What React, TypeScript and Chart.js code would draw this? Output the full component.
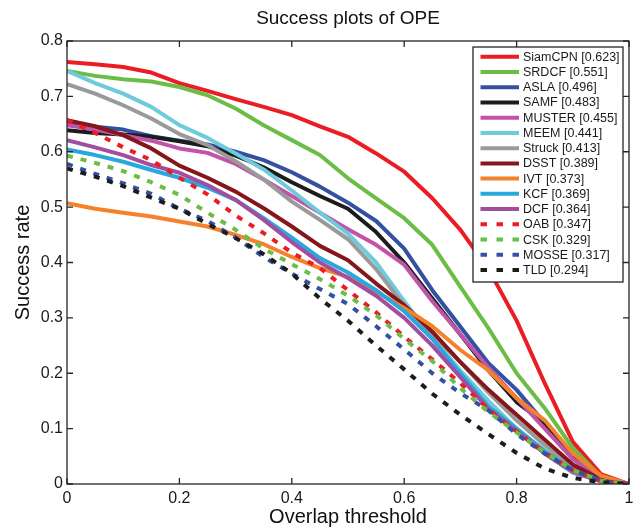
import React, { useEffect, useRef } from "react";
import { Chart, registerables } from "chart.js";

Chart.register(...registerables);

const thresholds = [0, 0.05, 0.1, 0.15, 0.2, 0.25, 0.3, 0.35, 0.4, 0.45, 0.5, 0.55, 0.6, 0.65, 0.7, 0.75, 0.8, 0.85, 0.9, 0.95, 1];

const siamCPN = [0.762, 0.758, 0.753, 0.743, 0.724, 0.71, 0.695, 0.681, 0.666, 0.646, 0.627, 0.597, 0.564, 0.516, 0.459, 0.388, 0.295, 0.182, 0.076, 0.018, 0];
const srdcf = [0.746, 0.737, 0.731, 0.727, 0.717, 0.702, 0.678, 0.648, 0.621, 0.594, 0.552, 0.516, 0.48, 0.432, 0.356, 0.281, 0.2, 0.137, 0.065, 0.013, 0];
const asla = [0.65, 0.645, 0.64, 0.628, 0.62, 0.613, 0.6, 0.585, 0.563, 0.537, 0.508, 0.475, 0.425, 0.35, 0.284, 0.218, 0.17, 0.11, 0.049, 0.012, 0];
const samf = [0.639, 0.634, 0.631, 0.627, 0.619, 0.61, 0.593, 0.572, 0.545, 0.52, 0.497, 0.455, 0.4, 0.335, 0.27, 0.205, 0.148, 0.11, 0.05, 0.012, 0];
const muster = [0.648, 0.64, 0.63, 0.62, 0.606, 0.598, 0.578, 0.55, 0.52, 0.49, 0.46, 0.432, 0.396, 0.33, 0.27, 0.21, 0.155, 0.1, 0.045, 0.01, 0];
const meem = [0.746, 0.724, 0.705, 0.681, 0.648, 0.625, 0.597, 0.568, 0.53, 0.49, 0.452, 0.4, 0.33, 0.265, 0.205, 0.15, 0.1, 0.055, 0.02, 0.005, 0];
const struck = [0.722, 0.705, 0.684, 0.66, 0.632, 0.612, 0.583, 0.55, 0.51, 0.477, 0.442, 0.388, 0.322, 0.27, 0.22, 0.165, 0.115, 0.07, 0.03, 0.008, 0];
const dsst = [0.657, 0.646, 0.63, 0.606, 0.575, 0.553, 0.528, 0.498, 0.465, 0.43, 0.404, 0.362, 0.323, 0.275, 0.22, 0.17, 0.125, 0.08, 0.035, 0.008, 0];
const ivt = [0.507, 0.497, 0.49, 0.483, 0.474, 0.465, 0.45, 0.433, 0.41, 0.39, 0.374, 0.347, 0.318, 0.285, 0.242, 0.205, 0.155, 0.115, 0.055, 0.015, 0];
const kcf = [0.604, 0.594, 0.582, 0.567, 0.553, 0.535, 0.513, 0.48, 0.445, 0.408, 0.382, 0.35, 0.312, 0.262, 0.2, 0.14, 0.1, 0.06, 0.025, 0.006, 0];
const dcf = [0.621, 0.608, 0.594, 0.576, 0.562, 0.54, 0.513, 0.477, 0.437, 0.4, 0.372, 0.34, 0.3, 0.25, 0.193, 0.135, 0.095, 0.055, 0.022, 0.005, 0];
const oab = [0.657, 0.634, 0.608, 0.585, 0.553, 0.523, 0.485, 0.453, 0.418, 0.39, 0.35, 0.31, 0.266, 0.225, 0.182, 0.135, 0.095, 0.057, 0.025, 0.006, 0];
const csk = [0.593, 0.58, 0.565, 0.545, 0.522, 0.49, 0.459, 0.425, 0.397, 0.37, 0.34, 0.305, 0.262, 0.222, 0.173, 0.13, 0.093, 0.057, 0.025, 0.006, 0];
const mosse = [0.578, 0.56, 0.543, 0.524, 0.497, 0.475, 0.445, 0.41, 0.38, 0.352, 0.325, 0.285, 0.243, 0.2, 0.164, 0.133, 0.09, 0.055, 0.025, 0.006, 0];
const tld = [0.57, 0.555, 0.538, 0.517, 0.497, 0.47, 0.444, 0.415, 0.38, 0.335, 0.295, 0.25, 0.207, 0.163, 0.125, 0.09, 0.056, 0.028, 0.011, 0.003, 0];

const seriesLabels = [
  "SiamCPN [0.623]", "SRDCF [0.551]", "ASLA [0.496]", "SAMF [0.483]", "MUSTER [0.455]",
  "MEEM [0.441]", "Struck [0.413]", "DSST [0.389]", "IVT [0.373]", "KCF [0.369]",
  "DCF [0.364]", "OAB [0.347]", "CSK [0.329]", "MOSSE [0.317]", "TLD [0.294]",
];
const seriesValues = [siamCPN, srdcf, asla, samf, muster, meem, struck, dsst, ivt, kcf, dcf, oab, csk, mosse, tld];
const seriesColors = [
  "#ec1c24", "#6cbd45", "#3451a1", "#1c1c1c", "#c154aa",
  "#6fcbdc", "#9a9a9a", "#85161a", "#f5822b", "#29a7df",
  "#a24d9d", "#ec1c24", "#6cbd45", "#3451a1", "#1c1c1c",
];
const seriesDashed = [false, false, false, false, false, false, false, false, false, false, false, true, true, true, true];

const xTicks = [0, 0.2, 0.4, 0.6, 0.8, 1];
const yTicks = [0, 0.1, 0.2, 0.3, 0.4, 0.5, 0.6, 0.7, 0.8];

const FONT = "'Liberation Sans', Arial, Helvetica, sans-serif";

const decorPlugin = {
  id: "decor",
  afterDatasetsDraw(chart: any) {
    const ctx = chart.ctx;
    const { left, right, top, bottom } = chart.chartArea;
    const xs = chart.scales.x;
    const ys = chart.scales.y;
    ctx.save();
    ctx.strokeStyle = "#262626";
    ctx.lineWidth = 1.3;
    ctx.setLineDash([]);
    ctx.strokeRect(left, top, right - left, bottom - top);
    const tl = 6;
    ctx.beginPath();
    xTicks.forEach((t) => {
      const px = xs.getPixelForValue(t);
      ctx.moveTo(px, bottom);
      ctx.lineTo(px, bottom - tl);
      ctx.moveTo(px, top);
      ctx.lineTo(px, top + tl);
    });
    yTicks.forEach((v) => {
      const py = ys.getPixelForValue(v);
      ctx.moveTo(left, py);
      ctx.lineTo(left + tl, py);
      ctx.moveTo(right, py);
      ctx.lineTo(right - tl, py);
    });
    ctx.stroke();

    const lx = 473, ly = 47, lw = 150, lh = 235;
    ctx.fillStyle = "#ffffff";
    ctx.fillRect(lx, ly, lw, lh);
    ctx.strokeStyle = "#262626";
    ctx.lineWidth = 1.3;
    ctx.strokeRect(lx, ly, lw, lh);
    ctx.font = `12.5px ${FONT}`;
    ctx.textBaseline = "middle";
    ctx.textAlign = "left";
    seriesLabels.forEach((label, i) => {
      const y = 56.7 + i * 15.24;
      ctx.beginPath();
      ctx.strokeStyle = seriesColors[i];
      ctx.lineWidth = 4;
      ctx.lineCap = "butt";
      ctx.setLineDash(seriesDashed[i] ? [6.5, 9.5] : []);
      ctx.moveTo(480.5, y);
      ctx.lineTo(519, y);
      ctx.stroke();
      ctx.setLineDash([]);
      ctx.fillStyle = "#1a1a1a";
      ctx.fillText(label, 523, y + 0.5);
    });

    ctx.font = `19px ${FONT}`;
    ctx.textAlign = "center";
    ctx.textBaseline = "middle";
    ctx.fillStyle = "#111111";
    ctx.fillText("Success plots of OPE", (left + right) / 2, 19);
    ctx.restore();
  },
};

export default function App() {
  const ref = useRef<HTMLCanvasElement | null>(null);
  useEffect(() => {
    if (!ref.current) return;
    const datasets = seriesLabels.map((label, i) => ({
      label,
      data: thresholds.map((t, j) => ({ x: t, y: seriesValues[i][j] })),
      borderColor: seriesColors[i],
      backgroundColor: seriesColors[i],
      borderWidth: 4,
      borderDash: seriesDashed[i] ? [6, 8] : [],
      borderJoinStyle: "round" as const,
      borderCapStyle: "butt" as const,
      pointRadius: 0,
      fill: false,
      tension: 0,
      order: seriesLabels.length - 1 - i,
    }));
    const chart = new Chart(ref.current, {
      type: "line",
      data: { datasets },
      options: {
        responsive: false,
        animation: false,
        devicePixelRatio: 1,
        layout: { padding: { top: 41, right: 13, left: 0, bottom: 0 } },
        plugins: {
          legend: { display: false },
          tooltip: { enabled: false },
          title: { display: false },
        },
        scales: {
          x: {
            type: "linear",
            min: 0,
            max: 1,
            afterFit: (s: any) => { s.height = 45; },
            afterBuildTicks: (s: any) => { s.ticks = xTicks.map((v) => ({ value: v })); },
            grid: { display: false, drawTicks: false },
            border: { display: false },
            ticks: {
              padding: 5,
              color: "#1a1a1a",
              font: { size: 16, family: FONT },
              callback: (v: any) => String(Math.round(Number(v) * 10) / 10),
              maxRotation: 0,
              autoSkip: false,
            },
            title: {
              display: true,
              text: "Overlap threshold",
              color: "#111111",
              font: { size: 20, family: FONT },
              padding: { top: 0, bottom: 0 },
            },
          },
          y: {
            type: "linear",
            min: 0,
            max: 0.8,
            afterFit: (s: any) => { s.width = 67; },
            afterBuildTicks: (s: any) => { s.ticks = yTicks.map((v) => ({ value: v })); },
            grid: { display: false, drawTicks: false },
            border: { display: false },
            ticks: {
              padding: 4,
              color: "#1a1a1a",
              font: { size: 16, family: FONT },
              callback: (v: any) => String(Math.round(Number(v) * 10) / 10),
              autoSkip: false,
            },
            title: {
              display: true,
              text: "Success rate",
              color: "#111111",
              font: { size: 20, family: FONT },
              padding: { top: 11, bottom: 0 },
            },
          },
        },
      },
      plugins: [decorPlugin],
    });
    return () => chart.destroy();
  }, []);
  return (
    <div style={{ position: "absolute", left: 0, top: 0, width: 642, height: 529, background: "#fff" }}>
      <canvas ref={ref} width={642} height={529} style={{ display: "block", width: 642, height: 529 }} />
    </div>
  );
}
